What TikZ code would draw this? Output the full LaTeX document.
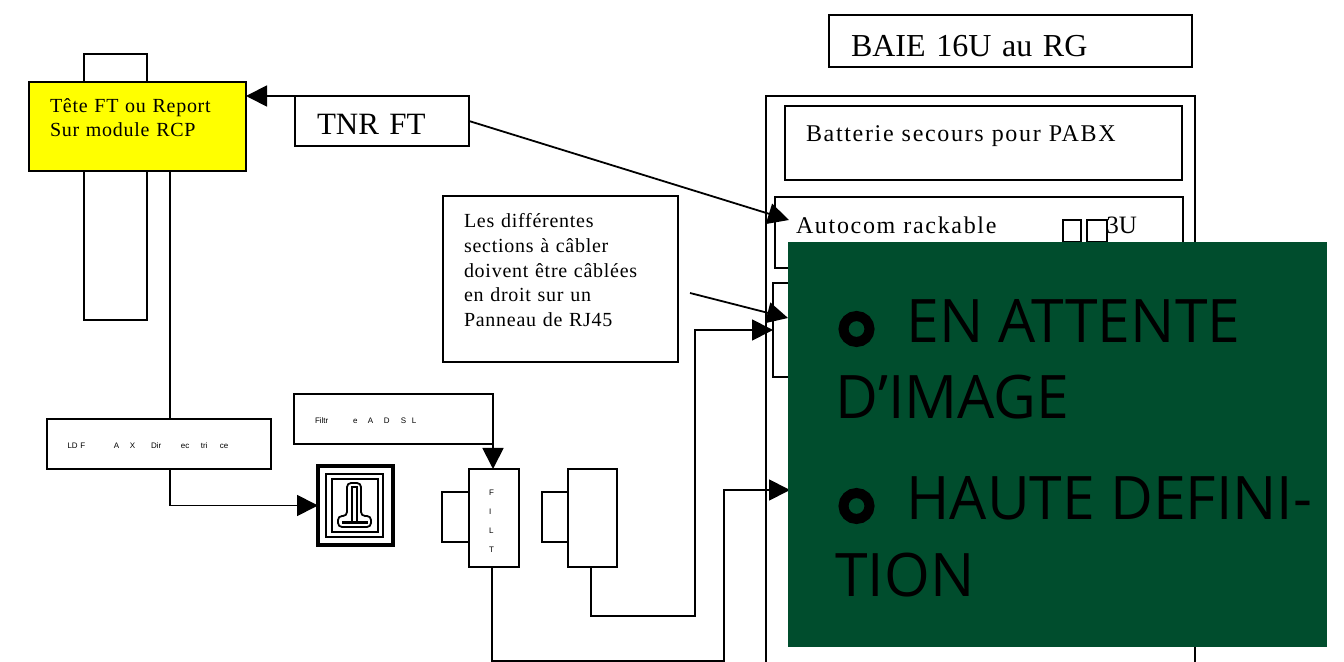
\documentclass[tikz,border=0pt]{standalone}
\usepackage{fontspec}
\setmainfont{Liberation Serif}
\newfontfamily\lsa[LetterSpace=7]{Liberation Serif}
\newfontfamily\lsb[LetterSpace=3.7]{Liberation Serif}
\newfontfamily\smallsans{Liberation Sans}
\newfontfamily\bigsans[FakeStretch=0.98]{Open Sans}
\usetikzlibrary{arrows.meta}
\definecolor{panelgreen}{HTML}{004D2D}
\definecolor{pureyellow}{RGB}{255,255,0}
\newcommand{\chunk}[2]{\makebox[#1pt][l]{#2}}
\tikzset{
  box/.style n args={4}{draw=black, line width=0.9pt, anchor=north west, inner ysep=0pt, outer sep=0pt,
    inner xsep=#4pt, minimum width=#1pt, minimum height=#2pt, align=left,
    text width=\dimexpr#1pt-#4pt-#4pt\relax, text height=#3pt, text depth=\dimexpr#2pt-#3pt\relax},
  plainbox/.style n args={2}{draw=black, line width=0.9pt, anchor=north west, inner sep=0pt, outer sep=0pt,
    minimum width=#1pt, minimum height=#2pt},
  wire/.style={draw=black, line width=0.9pt},
  arr/.style={wire, -{Triangle[length=10.5pt,width=10.5pt]}},
  cap10/.style={font=\lsb\fontsize{10}{12}\selectfont},
  cap10b/.style={font=\lsb\fontsize{10}{12.3}\selectfont},
  cap12/.style={font=\lsa\fontsize{12}{14}\selectfont},
  tiny4/.style={font=\smallsans\fontsize{4}{9.5}\selectfont},
  greentext/.style={anchor=base west, inner sep=0pt, text=black, font=\bigsans\fontsize{30}{36}\selectfont},
  ring/.style={circle, draw=black, line width=5pt, minimum size=13pt, inner sep=0pt, outer sep=0pt},
}
\begin{document}
\begin{tikzpicture}[x=0.5pt,y=-0.5pt]
\useasboundingbox (0,0) rectangle (1344,662);
% left column
\node[plainbox={31.5}{133}] (tall) at (84,54) {};
\node[box={108.5}{44.5}{15.5}{10.5}, fill=pureyellow, cap10] (yellow) at (29,82) {Tête FT ou Report\\Sur module RCP};
\node[box={87}{25}{19.5}{11}, font=\fontsize{15.5}{18}\selectfont] (tnr) at (295,96) {TNR FT};
\node[box={112}{25}{15}{10.25}, tiny4] (ldf) at (47,419) {\chunk{23.25}{LD F}\chunk{8}{A}\chunk{10.5}{X}\chunk{15}{Dir}\chunk{10}{ec}\chunk{9.5}{tri}ce};
\node[box={99.5}{25}{15}{10.5}, tiny4] (filtre) at (294,394) {\chunk{19}{Filtr}\chunk{7.5}{e}\chunk{8}{A}\chunk{8.5}{D}\chunk{5.5}{S}L};
% telephone socket symbol
\node[plainbox={37.5}{39.5}, line width=2.2pt] (motif) at (318,466) {};
\draw[line width=0.9pt] (326,474) rectangle (383,537);
\draw[line width=0.9pt] (332,479) rectangle (378,532);
\draw[line width=0.9pt, rounded corners=2pt] (347,516) -- (347,483) -- (361,483) -- (361,516) -- (371,516) -- (371,527) -- (338,527) -- (338,516) -- cycle;
\draw[line width=0.8pt] (352,522) -- (352,487) -- (357,487) -- (357,522);
\draw[line width=1.5pt] (342,522) -- (368,522);
% filter blocks
\node[plainbox={13.5}{25}] (filtL) at (442,492) {};
\node[box={25}{49}{13}{10}, tiny4, fill=white] (filt) at (469,469) {F\\I\\L\\T};
\node[plainbox={13}{25}] (boxL) at (542,492) {};
\node[plainbox={24.5}{49}, fill=white] (boxR) at (568,469) {};
% note
\node[box={117.5}{83}{16}{10.5}, cap10b] (note) at (443,196) {Les différentes\\sections à câbler\\doivent être câblées\\en droit sur un\\Panneau de RJ45};
% rack
\draw[wire] (766,662) -- (766,96) -- (1195,96) -- (1195,662);
\node[box={181.5}{26}{21}{11}, font=\fontsize{16}{20}\selectfont] (title) at (829,15) {BAIE 16U au RG};
\node[box={198.5}{37}{18}{10.5}, cap12] (batt) at (785,106) {Batterie secours pour PABX};
\node[box={204}{35.5}{18.5}{10.5}, cap12] (autocom) at (775,197) {Autocom rackable};
\node[plainbox={9}{11}] (sqa) at (1063,220) {};
\node[plainbox={10}{11}] (sqb) at (1087,220) {};
\node[anchor=base west, inner sep=0pt, font=\fontsize{12.5}{14}\selectfont] (u3) at (1106,234) {3U};
\node[plainbox={205}{47}] (panel) at (773,283) {};
% free ends
\coordinate (noteTail) at (690,293);
\coordinate (panelTip) at (788,318);
\coordinate (downA) at (492,661);
\coordinate (cornerA) at (724,661);
\coordinate (upA) at (724,490);
\coordinate (tipA) at (790,490);
\coordinate (downB) at (591,616);
\coordinate (cornerB) at (695,616);
% connectors
\draw[arr] (tnr.north west) -- (tnr.north west -| yellow.east);
\draw[arr] (tnr.east) -- ([xshift=7pt,yshift=-11.5pt]autocom.north west);
\draw[wire] ([xshift=16.25pt]yellow.south) -- ([xshift=5.5pt]ldf.north);
\draw[arr] ([xshift=5.5pt]ldf.south) |- (motif.west);
\draw[arr] (filtre.south east) -- (filtre.south east |- filt.north);
\draw[arr] (noteTail) -- (panelTip);
\draw[arr] ([xshift=-1pt]filt.south) -- (downA) -- (cornerA) -- (upA) -- (tipA);
\draw[arr] ([xshift=-0.75pt]boxR.south) -- (downB) -- (cornerB) |- (panel.west);
% overlay
\node[anchor=north west, fill=panelgreen, inner sep=0pt, outer sep=0pt, minimum width=269.5pt, minimum height=202.5pt] (green) at (788,242) {};
\node[ring] (ringa) at (856.5,329) {};
\node[greentext] (la) at (906,343) {EN ATTENTE};
\node[greentext] (lb) at (835,419) {D’IMAGE};
\node[ring] (ringb) at (856.5,506) {};
\node[greentext] (lc) at (906,519) {HAUTE DEFINI-};
\node[greentext] (ld) at (835,596) {TION};
\end{tikzpicture}
\end{document}
